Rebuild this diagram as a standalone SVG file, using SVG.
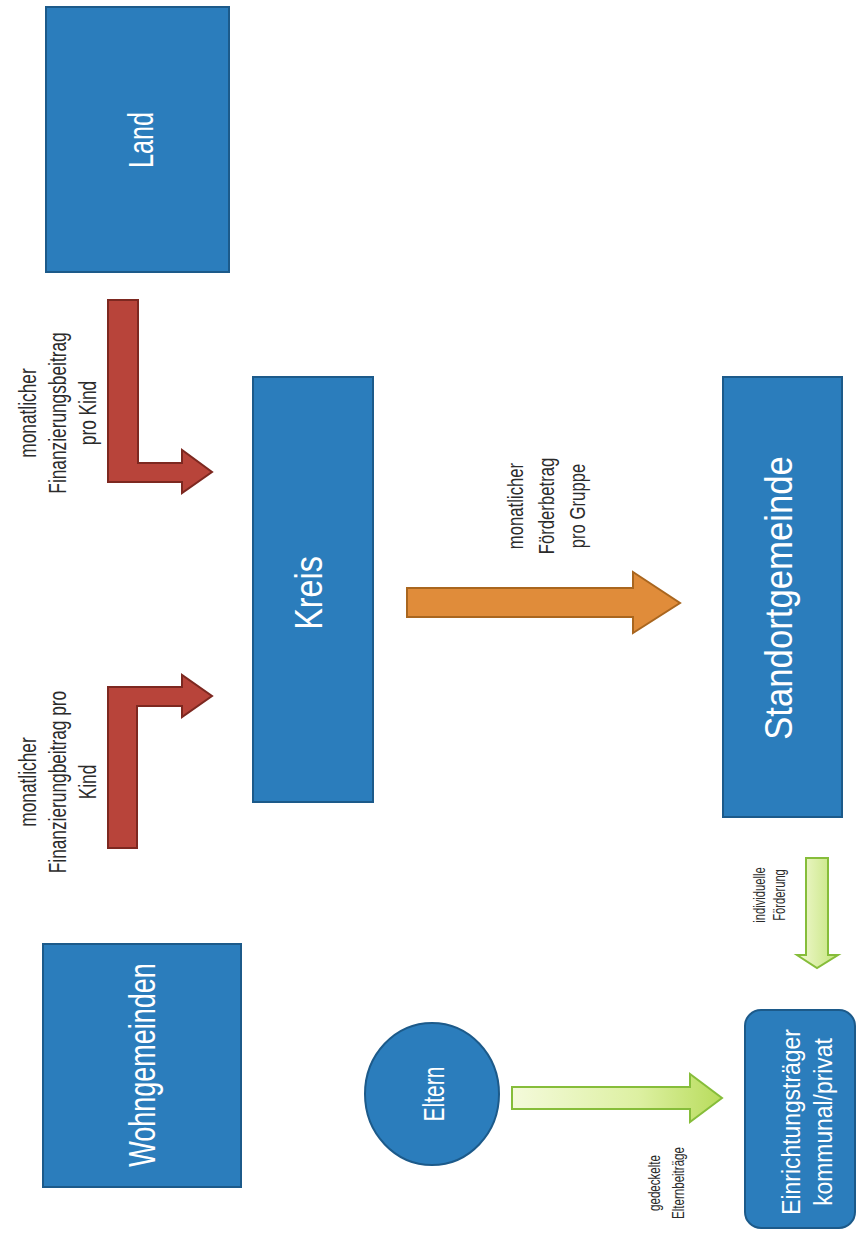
<svg xmlns="http://www.w3.org/2000/svg" width="858" height="1236" viewBox="0 0 858 1236">
<defs>
<style>
.box{fill:#2b7dbc;stroke:#1c5a8a;stroke-width:2}
.bt{fill:#ffffff;font-family:"Liberation Sans",Arial,sans-serif;text-anchor:middle}
.lbl{fill:#2b2b2b;font-family:"Liberation Sans",Arial,sans-serif;text-anchor:middle}
.red{fill:#b8443a;stroke:#7d2820;stroke-width:2;stroke-linejoin:miter}
.orange{fill:#e08c3a;stroke:#a9661f;stroke-width:2}
.green{stroke:#86bd3a;stroke-width:2}
</style>
<linearGradient id="gv" x1="0" y1="0" x2="1" y2="0">
<stop offset="0" stop-color="#f2f9d2"/><stop offset="1" stop-color="#c3e47a"/>
</linearGradient>
<linearGradient id="gh" x1="0" y1="0" x2="1" y2="0">
<stop offset="0" stop-color="#f4fadb"/><stop offset="0.6" stop-color="#ddf0a2"/><stop offset="1" stop-color="#b8dc5c"/>
</linearGradient>
</defs>
<rect width="858" height="1236" fill="#ffffff"/>

<g id="connectors">
<path class="red" d="M108,300 L138,300 L138,463 L182,463 L182,450 L212,472 L182,493 L182,482 L108,482 Z"/>
<path class="red" d="M108,848 L108,687 L182,687 L182,675 L212,696 L182,717 L182,706 L137,706 L137,848 Z"/>
<path class="orange" d="M407,588 L633,588 L633,572 L680,603 L633,633 L633,617 L407,617 Z"/>
<path class="green" fill="url(#gv)" d="M806,858 L828,858 L828,955 L838,955 L817,968 L797,955 L806,955 Z"/>
<path class="green" fill="url(#gh)" d="M512,1087 L690,1087 L690,1074 L722,1098 L690,1122 L690,1109 L512,1109 Z"/>
</g>

<g id="labels">
<text class="lbl" font-size="24" transform="translate(36,413) rotate(-90) scale(0.72,1)"><tspan x="0" dy="0">monatlicher</tspan><tspan x="0" dy="30">Finanzierungsbeitrag</tspan><tspan x="0" dy="30">pro Kind</tspan></text>
<text class="lbl" font-size="24" transform="translate(36,782) rotate(-90) scale(0.72,1)"><tspan x="0" dy="0">monatlicher</tspan><tspan x="0" dy="30">Finanzierungbeitrag pro</tspan><tspan x="0" dy="30">Kind</tspan></text>
<text class="lbl" font-size="22" transform="translate(523,506) rotate(-90) scale(0.76,1)"><tspan x="0" dy="0">monatlicher</tspan><tspan x="0" dy="31">Förderbetrag</tspan><tspan x="0" dy="31">pro Gruppe</tspan></text>
<text class="lbl" font-size="17" transform="translate(765,895) rotate(-90) scale(0.66,1)"><tspan x="0" dy="0">individuelle</tspan><tspan x="0" dy="20">Förderung</tspan></text>
<text class="lbl" font-size="17" transform="translate(660,1183) rotate(-90) scale(0.68,1)"><tspan x="0" dy="0">gedeckelte</tspan><tspan x="0" dy="24">Elternbeiträge</tspan></text>
</g>

<g id="land">
<rect class="box" x="46" y="7" width="183" height="265"/>
<text class="bt" font-size="36" transform="translate(153,140) rotate(-90) scale(0.7,1)">Land</text>
</g>

<g id="kreis">
<rect class="box" x="253" y="377" width="120" height="425"/>
<text class="bt" font-size="38" transform="translate(322,593) rotate(-90) scale(0.85,1)">Kreis</text>
</g>

<g id="standortgemeinde">
<rect class="box" x="723" y="377" width="119" height="440"/>
<text class="bt" font-size="39" transform="translate(792,598) rotate(-90) scale(0.89,1)">Standortgemeinde</text>
</g>

<g id="wohngemeinden">
<rect class="box" x="43" y="944" width="198" height="243"/>
<text class="bt" font-size="37" transform="translate(155,1065) rotate(-90) scale(0.73,1)">Wohngemeinden</text>
</g>

<g id="eltern">
<ellipse class="box" cx="432" cy="1094" rx="67" ry="71"/>
<text class="bt" font-size="30" transform="translate(444,1094) rotate(-90) scale(0.7,1)">Eltern</text>
</g>

<g id="einrichtungstraeger">
<rect class="box" x="745" y="1010" width="110" height="218" rx="16" ry="16"/>
<text class="bt" font-size="26" transform="translate(800,1122) rotate(-90) scale(0.88,1)"><tspan x="0" dy="0">Einrichtungsträger</tspan><tspan x="0" dy="32">kommunal/privat</tspan></text>
</g>
</svg>
